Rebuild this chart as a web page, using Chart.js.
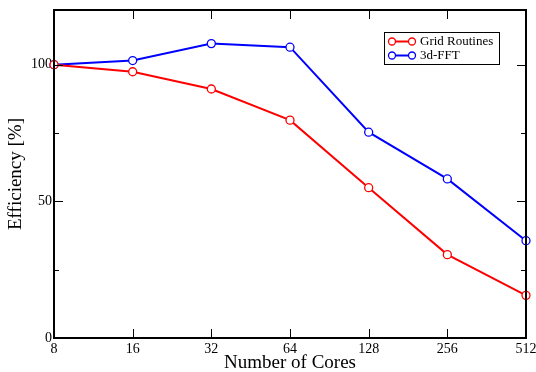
<!DOCTYPE html>
<html>
<head>
<meta charset="utf-8">
<script src="https://cdn.jsdelivr.net/npm/chart.js@4"></script>
<style>
  html, body { margin: 0; padding: 0; background: #fff; }
  #wrap { width: 536px; height: 372px; }
</style>
</head>
<body>
<div id="wrap"><canvas id="eff-chart" width="536" height="372"></canvas></div>
<script>
// Date
const cores = ['8', '16', '32', '64', '128', '256', '512'];
const gridRoutines = [100, 97.4, 91.1, 79.7, 55.0, 30.5, 15.6];
const fft3d = [100, 101.5, 107.7, 106.4, 75.3, 58.2, 35.6];
const yTicks = [0, 50, 100];
const yMinorTicks = [25, 75];

const serif = '"Liberation Serif", "DejaVu Serif", serif';

// Cadru + tick-uri interioare pe toate laturile
const framePlugin = {
    id: 'frame',
    afterDatasetsDraw(chart) {
        const { ctx, chartArea: a, scales } = chart;
        ctx.save();
        ctx.strokeStyle = '#000';
        ctx.lineWidth = 1;
        const major = 9, minor = 5;
        cores.forEach((c, i) => {
            if (i === 0 || i === cores.length - 1) return;
            const x = Math.round(scales.x.getPixelForValue(i)) + 0.5;
            ctx.beginPath();
            ctx.moveTo(x, a.bottom); ctx.lineTo(x, a.bottom - major);
            ctx.moveTo(x, a.top); ctx.lineTo(x, a.top + major);
            ctx.stroke();
        });
        const yTick = (v, len) => {
            const y = Math.round(scales.y.getPixelForValue(v)) + 0.5;
            ctx.beginPath();
            ctx.moveTo(a.left, y); ctx.lineTo(a.left + len, y);
            ctx.moveTo(a.right, y); ctx.lineTo(a.right - len, y);
            ctx.stroke();
        };
        yTicks.slice(1).forEach(v => yTick(v, major));
        yMinorTicks.forEach(v => yTick(v, minor));
        ctx.lineWidth = 2;
        ctx.strokeRect(a.left, a.top, a.right - a.left, a.bottom - a.top);
        ctx.restore();
    }
};

// Legenda in stil xmgrace: linie cu cerc la ambele capete
const legendPlugin = {
    id: 'boxLegend',
    afterDraw(chart) {
        const { ctx } = chart;
        const x0 = 384, y0 = 32, w = 115, h = 32;
        ctx.save();
        ctx.fillStyle = '#fff';
        ctx.fillRect(x0, y0, w, h);
        ctx.strokeStyle = '#000';
        ctx.lineWidth = 1;
        ctx.strokeRect(x0 + 0.5, y0 + 0.5, w, h);
        ctx.font = '13px ' + serif;
        ctx.textBaseline = 'middle';
        chart.data.datasets.forEach((ds, i) => {
            const y = y0 + 9.5 + i * 14;
            ctx.strokeStyle = ds.borderColor;
            ctx.lineWidth = 2;
            ctx.beginPath();
            ctx.moveTo(392, y); ctx.lineTo(412, y);
            ctx.stroke();
            ctx.lineWidth = 1.3;
            [392, 412].forEach(cx => {
                ctx.beginPath();
                ctx.arc(cx, y, 3.5, 0, Math.PI * 2);
                ctx.fillStyle = '#fff';
                ctx.fill();
                ctx.stroke();
            });
            ctx.fillStyle = '#000';
            ctx.fillText(ds.label, 420, y + 0.5);
        });
        ctx.restore();
    }
};

const ctx = document.getElementById('eff-chart').getContext('2d');
new Chart(ctx, {
    type: 'line',
    data: {
        labels: cores,
        datasets: [{
            label: 'Grid Routines',
            data: gridRoutines,
            borderColor: '#ff0000',
            backgroundColor: '#ffffff',
            borderWidth: 2,
            pointRadius: 4,
            pointBorderWidth: 1.3,
            tension: 0
        }, {
            label: '3d-FFT',
            data: fft3d,
            borderColor: '#0000ff',
            backgroundColor: '#ffffff',
            borderWidth: 2,
            pointRadius: 4,
            pointBorderWidth: 1.3,
            tension: 0
        }]
    },
    options: {
        responsive: false,
        animation: false,
        layout: { padding: { top: 10, right: 10, left: 0, bottom: 0 } },
        plugins: {
            legend: { display: false },
            tooltip: { enabled: false }
        },
        scales: {
            x: {
                offset: false,
                grid: { display: false, drawTicks: false, tickLength: 0 },
                border: { display: false },
                ticks: { color: '#000', font: { family: serif, size: 14 }, padding: 3, maxRotation: 0, autoSkip: false },
                title: { display: true, text: 'Number of Cores', color: '#000', font: { family: serif, size: 19 }, padding: { top: 0, bottom: -2 } },
                afterFit(scale) {
                    scale.height = 34;
                    scale.paddingLeft = 0;
                    scale.paddingRight = 0;
                }
            },
            y: {
                min: 0,
                max: 120,
                grid: { display: false, drawTicks: false, tickLength: 0 },
                border: { display: false },
                afterBuildTicks(scale) {
                    scale.ticks = yTicks.map(v => ({ value: v }));
                },
                ticks: { color: '#000', font: { family: serif, size: 14 }, padding: 2 },
                title: { display: true, text: 'Efficiency [%]', color: '#000', font: { family: serif, size: 19 }, padding: { top: 5, bottom: 0 } },
                afterFit(scale) {
                    scale.width = 54;
                    scale.paddingTop = 0;
                    scale.paddingBottom = 0;
                }
            }
        }
    },
    plugins: [framePlugin, legendPlugin]
});
</script>
</body>
</html>
